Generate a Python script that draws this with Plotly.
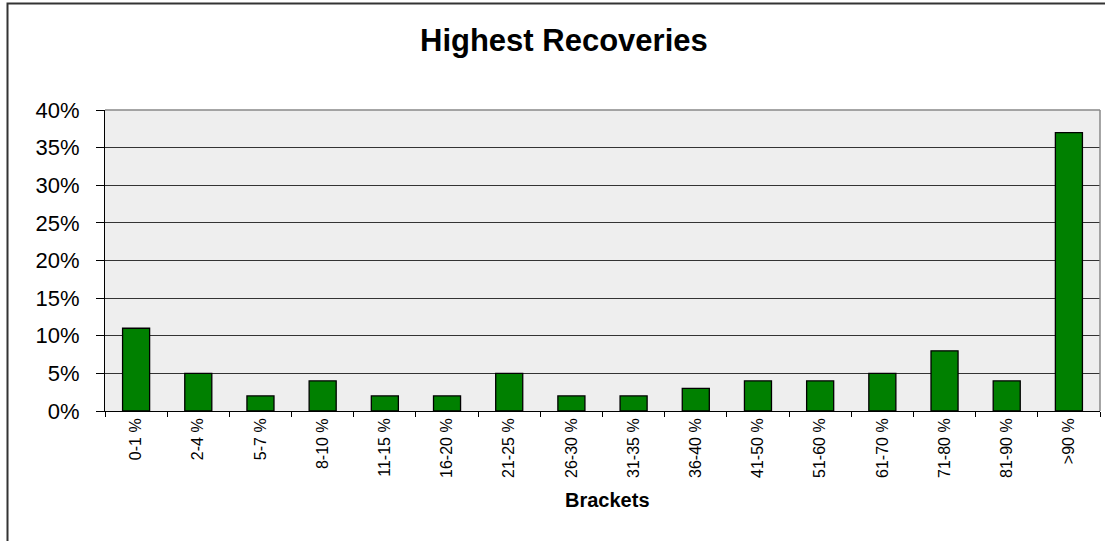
import plotly.graph_objects as go

categories = ["0-1 %", "2-4 %", "5-7 %", "8-10 %", "11-15 %", "16-20 %", "21-25 %",
              "26-30 %", "31-35 %", "36-40 %", "41-50 %", "51-60 %", "61-70 %",
              "71-80 %", "81-90 %", ">90 %"]
values = [0.11, 0.05, 0.02, 0.04, 0.02, 0.02, 0.05, 0.02, 0.02, 0.03, 0.04, 0.04,
          0.05, 0.08, 0.04, 0.37]
y_ticks = [0, 0.05, 0.10, 0.15, 0.20, 0.25, 0.30, 0.35, 0.40]
title_text = "Highest Recoveries"
x_title = "Brackets"

FONT = "Liberation Sans, Arial, sans-serif"

fig = go.Figure(go.Bar(
    x=categories, y=values,
    marker=dict(color="#008000", line=dict(color="#000000", width=1.3)),
))

W, H = 1105, 541
L, R, T, B = 105, 5, 110, 130
pw, ph = W - L - R, H - T - B

def px_x(px):
    return (px - L) / pw

def px_y(py):
    return (H - B - py) / ph

fig.update_layout(
    width=W, height=H,
    margin=dict(l=L, r=R, t=T, b=B, pad=0),
    paper_bgcolor="white",
    plot_bgcolor="#EEEEEE",
    bargap=0.565,
    showlegend=False,
    font=dict(family=FONT, color="black"),
    xaxis=dict(
        type="category",
        tickangle=-90,
        tickfont=dict(size=16, family=FONT, color="black"),
        ticks="outside", ticklen=5, tickcolor="black", tickwidth=1,
        tickson="boundaries",
        showline=True, linecolor="black", linewidth=1,
        showgrid=False, zeroline=False,
        fixedrange=True,
    ),
    yaxis=dict(
        range=[0, 0.40],
        tickvals=y_ticks,
        tickformat=".0%",
        tickfont=dict(size=22, family=FONT, color="black"),
        ticks="outside", ticklen=8, tickcolor="black", tickwidth=1,
        showline=True, linecolor="black", linewidth=1,
        showgrid=True, gridcolor="#333333", gridwidth=1,
        zeroline=False,
        ticklabelstandoff=12,
        fixedrange=True,
    ),
    shapes=[
        # plot area top/right border (gray)
        dict(type="line", xref="paper", yref="paper", x0=0, x1=1, y0=1, y1=1,
             line=dict(color="#888888", width=1.5)),
        dict(type="line", xref="paper", yref="paper", x0=1, x1=1, y0=0, y1=1,
             line=dict(color="#888888", width=1.5)),
        # outer chart border
        dict(type="rect", xref="paper", yref="paper",
             x0=px_x(7.5), x1=px_x(1200), y0=px_y(3.5), y1=px_y(700),
             line=dict(color="#333333", width=2), layer="above"),
    ],
    annotations=[
        dict(text="<b>" + title_text + "</b>", xref="paper", yref="paper",
             x=px_x(564), y=px_y(40), xanchor="center", yanchor="middle",
             showarrow=False, font=dict(size=31, family=FONT, color="black")),
        dict(text="<b>" + x_title + "</b>", xref="paper", yref="paper",
             x=px_x(607), y=px_y(500), xanchor="center", yanchor="middle",
             showarrow=False, font=dict(size=20, family=FONT, color="black")),
    ],
)

fig.write_html("out.html")
